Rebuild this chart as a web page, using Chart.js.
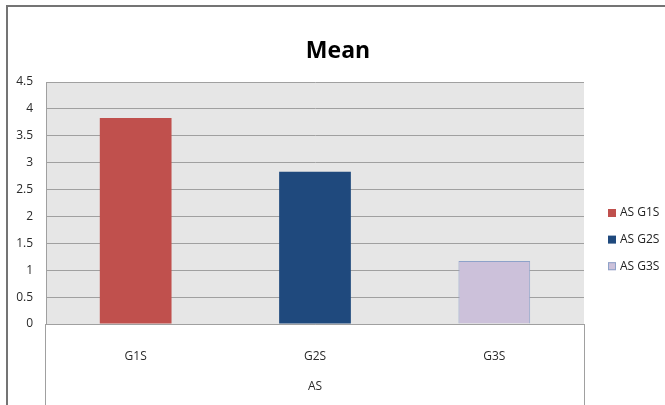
<!DOCTYPE html>
<html>
<head>
<meta charset="utf-8">
<script src="https://cdn.jsdelivr.net/npm/chart.js@4"></script>
<style>
  html, body { margin: 0; padding: 0; background: #fff; }
</style>
</head>
<body>
<canvas id="meanChart" width="665" height="405"></canvas>
<script>
const chartTitle = "Mean";
const categories = ["G1S", "G2S", "G3S"];
const seriesNames = ["AS G1S", "AS G2S", "AS G3S"];
const meanValues = [3.83, 2.83, 1.17];
const groupLabel = "AS";
const yMax = 4.5;
const yStep = 0.5;

const fillColors = ["#c0504d", "#1f497d", "#ccc1da"];
const edgeColors = ["#c0504d", "#1f497d", "#8ea2c9"];
const edgeWidths = [0, 0, 1];

const textColor = "#2a2a2a";
const lineColor = "#a0a0a0";

// one series per category, nulls skipped so each bar sits centred in its slot
const datasets = seriesNames.map((name, i) => ({
  label: name,
  data: categories.map((c, j) => (j === i ? meanValues[i] : null)),
  backgroundColor: fillColors[i],
  borderColor: edgeColors[i],
  borderWidth: edgeWidths[i],
  skipNull: true,
  categoryPercentage: 1,
  barPercentage: 0.4
}));

const decor = {
  id: "decor",
  beforeDraw(chart) {
    const { ctx, chartArea: a } = chart;
    ctx.save();
    ctx.fillStyle = "#ffffff";
    ctx.fillRect(0, 0, chart.width, chart.height);
    ctx.fillStyle = "#e6e6e6";
    ctx.fillRect(a.left, a.top, a.right - a.left, a.bottom - a.top);
    // outer chart frame
    ctx.strokeStyle = "#747474";
    ctx.lineWidth = 2;
    ctx.beginPath();
    ctx.moveTo(7, chart.height);
    ctx.lineTo(7, 6);
    ctx.lineTo(chart.width, 6);
    ctx.stroke();
    ctx.restore();
  },
  afterDraw(chart) {
    const { ctx, chartArea: a } = chart;
    ctx.save();
    // category box below the plot
    ctx.strokeStyle = lineColor;
    ctx.lineWidth = 1;
    ctx.beginPath();
    ctx.moveTo(Math.round(a.left) - 0.5, a.bottom);
    ctx.lineTo(Math.round(a.left) - 0.5, chart.height);
    ctx.moveTo(Math.round(a.right) + 0.5, a.bottom);
    ctx.lineTo(Math.round(a.right) + 0.5, chart.height);
    ctx.stroke();

    // title
    ctx.fillStyle = "#000000";
    ctx.font = 'bold 23px "Open Sans"';
    ctx.textAlign = "center";
    ctx.textBaseline = "alphabetic";
    ctx.fillText(chartTitle, 338, 58);

    // legend
    ctx.font = '12px "Open Sans"';
    ctx.textAlign = "left";
    ctx.textBaseline = "middle";
    chart.data.datasets.forEach((ds, i) => {
      const y = 213 + i * 26.6;
      ctx.fillStyle = ds.backgroundColor;
      ctx.fillRect(608, y - 4, 8, 8);
      if (ds.borderWidth) {
        ctx.strokeStyle = ds.borderColor;
        ctx.strokeRect(608.5, y - 3.5, 7, 7);
      }
      ctx.fillStyle = "#222222";
      ctx.fillText(ds.label, 620, y);
    });
    ctx.restore();
  }
};

new Chart(document.getElementById("meanChart"), {
  type: "bar",
  data: { labels: categories, datasets: datasets },
  plugins: [decor],
  options: {
    responsive: false,
    animation: false,
    layout: { padding: { top: 82, right: 81, left: 0, bottom: 0 } },
    plugins: {
      legend: { display: false },
      title: { display: false },
      tooltip: { enabled: false }
    },
    scales: {
      x: {
        grid: { display: false },
        border: { color: lineColor },
        ticks: { padding: 17, color: textColor, font: { family: "Open Sans", size: 12 } },
        title: {
          display: true,
          text: groupLabel,
          color: textColor,
          font: { family: "Open Sans", size: 12 },
          padding: { top: 0, bottom: 11 }
        },
        afterFit: s => { s.height = 81; }
      },
      y: {
        min: 0,
        max: yMax,
        ticks: {
          stepSize: yStep,
          padding: 13,
          color: textColor,
          font: { family: "Open Sans", size: 12 },
          callback: v => String(Math.round(v * 10) / 10)
        },
        grid: { color: lineColor, drawTicks: false },
        border: { color: lineColor },
        afterFit: s => { s.width = 46; }
      }
    }
  }
});
</script>
</body>
</html>
